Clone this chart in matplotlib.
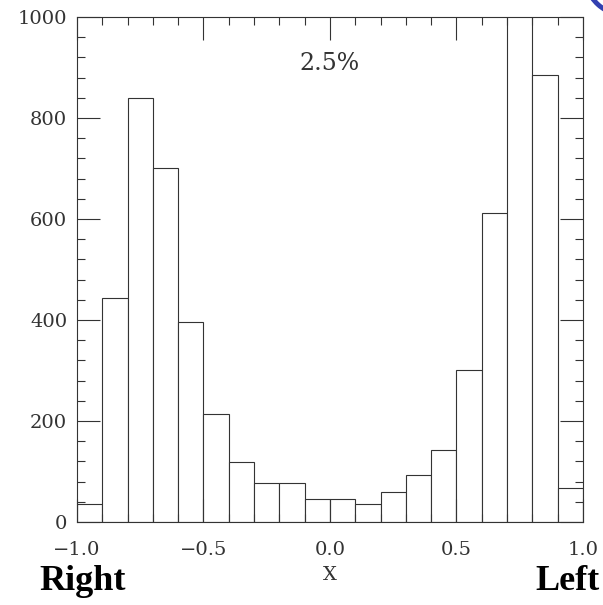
import numpy as np
import matplotlib
matplotlib.use('Agg')
import matplotlib.pyplot as plt
from matplotlib.ticker import MultipleLocator
from matplotlib.patches import Arc

# histogram bins and counts
bin_edges = [-1.0, -0.9, -0.8, -0.7, -0.6, -0.5, -0.4, -0.3, -0.2, -0.1, 0.0,
             0.1, 0.2, 0.3, 0.4, 0.5, 0.6, 0.7, 0.8, 0.9, 1.0]
counts = [36, 443, 840, 701, 396, 214, 118, 77, 77, 45, 45,
          36, 60, 93, 143, 300, 612, 1100, 885, 68]
label_text = '2.5%'

plt.rcParams['font.family'] = 'DejaVu Serif'
lc = '#333333'

fig = plt.figure(figsize=(6.03, 6.05), dpi=100)
ax = fig.add_axes([0.1277, 0.1372, 0.8391, 0.8347])

edges = np.array(bin_edges)
ax.bar(edges[:-1], counts, width=np.diff(edges), align='edge',
       facecolor='white', edgecolor=lc, linewidth=0.8)

ax.set_xlim(-1, 1)
ax.set_ylim(0, 1000)
ax.xaxis.set_major_locator(MultipleLocator(0.5))
ax.xaxis.set_minor_locator(MultipleLocator(0.1))
ax.yaxis.set_major_locator(MultipleLocator(200))
ax.yaxis.set_minor_locator(MultipleLocator(40))
ax.tick_params(which='both', direction='in', top=True, right=True,
               color=lc, width=0.8, labelcolor=lc, labelsize=14)
ax.tick_params(which='major', length=16.5)
ax.tick_params(which='minor', length=5.8)
ax.tick_params(axis='x', pad=14)
ax.tick_params(axis='y', pad=7)
for s in ax.spines.values():
    s.set_color(lc)
    s.set_linewidth(0.8)

ax.set_xlabel('X', fontsize=14, color=lc, labelpad=5)
ax.text(0.0, 908, label_text, ha='center', va='center', fontsize=17, color=lc)

fig.text(39/603, 1 - 590/605, 'Right', family='Liberation Serif', weight='bold',
         fontsize=26, ha='left', va='baseline')
fig.text(600/603, 1 - 590/605, 'Left', family='Liberation Serif', weight='bold',
         fontsize=26, ha='right', va='baseline')

# bit of blue logo in the corner
fig.patches.append(Arc((625, 630), 80, 80, theta1=200, theta2=255,
                       transform=None, color='#3340b0', linewidth=3.5))

fig.savefig('out.png', dpi=100)
